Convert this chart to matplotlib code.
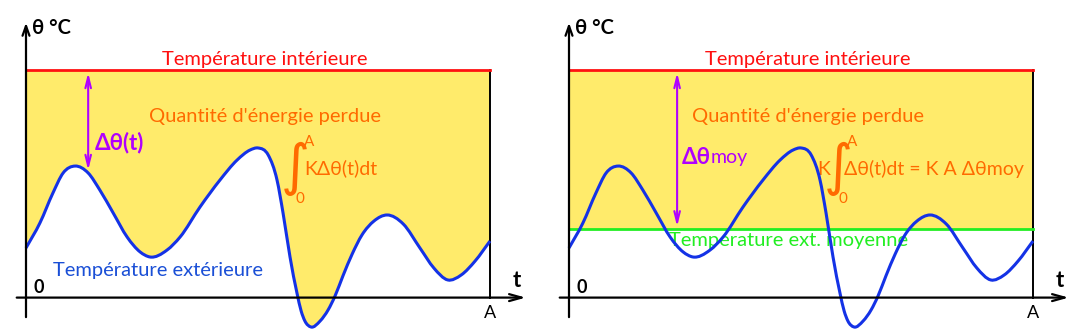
import numpy as np
import matplotlib.pyplot as plt
from matplotlib.path import Path
from matplotlib.patches import PathPatch

plt.rcParams['font.family'] = ['Lato', 'DejaVu Sans']

# outdoor temperature (t in % of A, theta in degC)
t_ext = [0, 3.0, 5.8, 8.0, 10.6, 13.4, 15.9, 18.8, 21.8, 24.6, 26.7, 30.4, 33.2,
         37.5, 41.8, 45.5, 48.3, 50.0, 52.2, 54.1, 55.4, 56.9, 58.4, 59.3, 60.1,
         61.4, 63.4, 65.1, 66.6, 68.3, 70.3, 72.4, 75.0, 77.8, 81.3, 84.9, 87.9,
         90.9, 93.8, 96.8, 100]
theta_ext = [4.36, 6.56, 9.19, 10.95, 11.56, 10.95, 9.46, 7.43, 5.32, 4.01, 3.57,
             4.18, 5.32, 7.96, 10.33, 12.09, 12.97, 13.15, 12.53, 10.33, 7.43, 3.57,
             0.40, -1.18, -2.05, -2.58, -2.05, -1.09, 0.14, 1.90, 3.83, 5.50, 6.73,
             7.26, 6.47, 4.36, 2.60, 1.55, 1.99, 3.22, 4.97]
theta_int = 20.0   # indoor temperature
theta_moy = 6.0    # mean outdoor temperature
t_end = 100        # A
t_arrow = 13.4     # where delta theta(t) is shown

YELLOW = '#ffeb6b'
RED = '#ff1010'
BLUE = '#1432e6'
ORANGE = '#ff6a00'
PURPLE = '#b000ff'
GREEN = '#22ee22'


def smooth_path(x, y):
    """Cubic hermite (in x) through the read points, as bezier segments."""
    x = np.asarray(x, float)
    y = np.asarray(y, float)
    m = np.gradient(y, x)
    verts = [(x[0], y[0])]
    codes = [Path.MOVETO]
    for i in range(len(x) - 1):
        h = (x[i + 1] - x[i]) / 3
        verts += [(x[i] + h, y[i] + m[i] * h),
                  (x[i + 1] - h, y[i + 1] - m[i + 1] * h),
                  (x[i + 1], y[i + 1])]
        codes += [Path.CURVE4] * 3
    return verts, codes


def draw_panel(ax, mean_version):
    ax.set_xlim(-26 / 4.64, 514 / 4.64)
    ax.set_ylim(-32.4 / 11.38, 297.6 / 11.38)
    ax.axis('off')

    verts, codes = smooth_path(t_ext, theta_ext)
    if mean_version:
        ax.fill_between([0, t_end], theta_moy, theta_int, color=YELLOW, lw=0, zorder=1)
    else:
        fv = verts + [(t_end, theta_int), (0, theta_int), (0, 0)]
        fc = codes + [Path.LINETO, Path.LINETO, Path.CLOSEPOLY]
        ax.add_patch(PathPatch(Path(fv, fc), facecolor=YELLOW, lw=0, zorder=1))

    # axes
    ax.annotate('', xy=(0, 24.4), xytext=(0, -1.96),
                arrowprops=dict(arrowstyle='->,head_length=0.7,head_width=0.25',
                                lw=1.6, color='black'), zorder=5)
    ax.annotate('', xy=(108.3, 0), xytext=(-2.6, 0),
                arrowprops=dict(arrowstyle='->,head_length=0.9,head_width=0.25',
                                lw=1.6, color='black'), zorder=5)
    ax.plot([t_end, t_end], [0, theta_int], color='black', lw=1.4, zorder=3)
    ax.plot([0, t_end], [theta_int, theta_int], color=RED, lw=2, zorder=4)
    if mean_version:
        ax.plot([0, t_end], [theta_moy, theta_moy], color=GREEN, lw=2, zorder=4)

    ax.add_patch(PathPatch(Path(verts, codes), facecolor='none', edgecolor=BLUE,
                           lw=2.2, zorder=4))

    ax.text(1.3, 23.7, 'θ °C', fontsize=14.5, fontweight='bold', va='center', ha='left')
    ax.text(1.7, 0.9, '0', fontsize=13, fontweight='bold', va='center', ha='left')
    ax.text(105.7, 1.5, 't', fontsize=16, fontweight='bold', va='center', ha='center')
    ax.text(t_end, -1.35, 'A', fontsize=13, va='center', ha='center')
    ax.text(51.5, 20.9, 'Température intérieure', color=RED, fontsize=14.5,
            va='center', ha='center')
    ax.text(51.5, 15.9, "Quantité d'énergie perdue", color=ORANGE, fontsize=14.5,
            va='center', ha='center')

    # integral
    ax.text(58.0, 11.3, '∫', family='DejaVu Sans', color=ORANGE, fontsize=40,
            va='center', ha='center')
    ax.text(60.0, 13.7, 'A', color=ORANGE, fontsize=11, va='center', ha='left')
    ax.text(59.0, 8.7, '0', color=ORANGE, fontsize=11, va='center', ha='center')

    if mean_version:
        ax.annotate('', xy=(23.3, theta_moy), xytext=(23.3, theta_int),
                    arrowprops=dict(arrowstyle='<->,head_length=0.8,head_width=0.2',
                                    lw=1.5, color=PURPLE), zorder=6)
        ax.text(24.4, 12.35, 'Δθ', color=PURPLE, fontsize=16, fontweight='bold',
                va='center', ha='left')
        ax.text(30.6, 12.35, 'moy', color=PURPLE, fontsize=14, va='center', ha='left')
        ax.text(53.5, 11.3, 'K', color=ORANGE, fontsize=14, va='center', ha='left')
        ax.text(59.3, 11.3, 'Δθ(t)dt = K A Δθmoy', color=ORANGE, fontsize=14,
                va='center', ha='left')
        ax.text(47.4, 5.06, 'Température ext. moyenne', color=GREEN, fontsize=14.5,
                va='center', ha='center', zorder=3)
    else:
        i = t_ext.index(t_arrow)
        ax.annotate('', xy=(t_arrow, theta_ext[i]), xytext=(t_arrow, theta_int),
                    arrowprops=dict(arrowstyle='<->,head_length=0.8,head_width=0.2',
                                    lw=1.5, color=PURPLE), zorder=6)
        ax.text(14.9, 13.6, 'Δθ(t)', color=PURPLE, fontsize=16, fontweight='bold',
                va='center', ha='left')
        ax.text(60.0, 11.4, 'KΔθ(t)dt', color=ORANGE, fontsize=14,
                va='center', ha='left')
        ax.text(28.4, 2.4, 'Température extérieure', color='#1a4fd6', fontsize=14.5,
                va='center', ha='center')


fig = plt.figure(figsize=(10.8, 3.3), dpi=100)
ax1 = fig.add_axes([0, 0, 0.5, 1])
ax2 = fig.add_axes([0.5, 0, 0.5, 1])
draw_panel(ax1, False)
draw_panel(ax2, True)
ax2.set_xlim(-29 / 4.64, 511 / 4.64)

plt.savefig('out.png', dpi=100)
